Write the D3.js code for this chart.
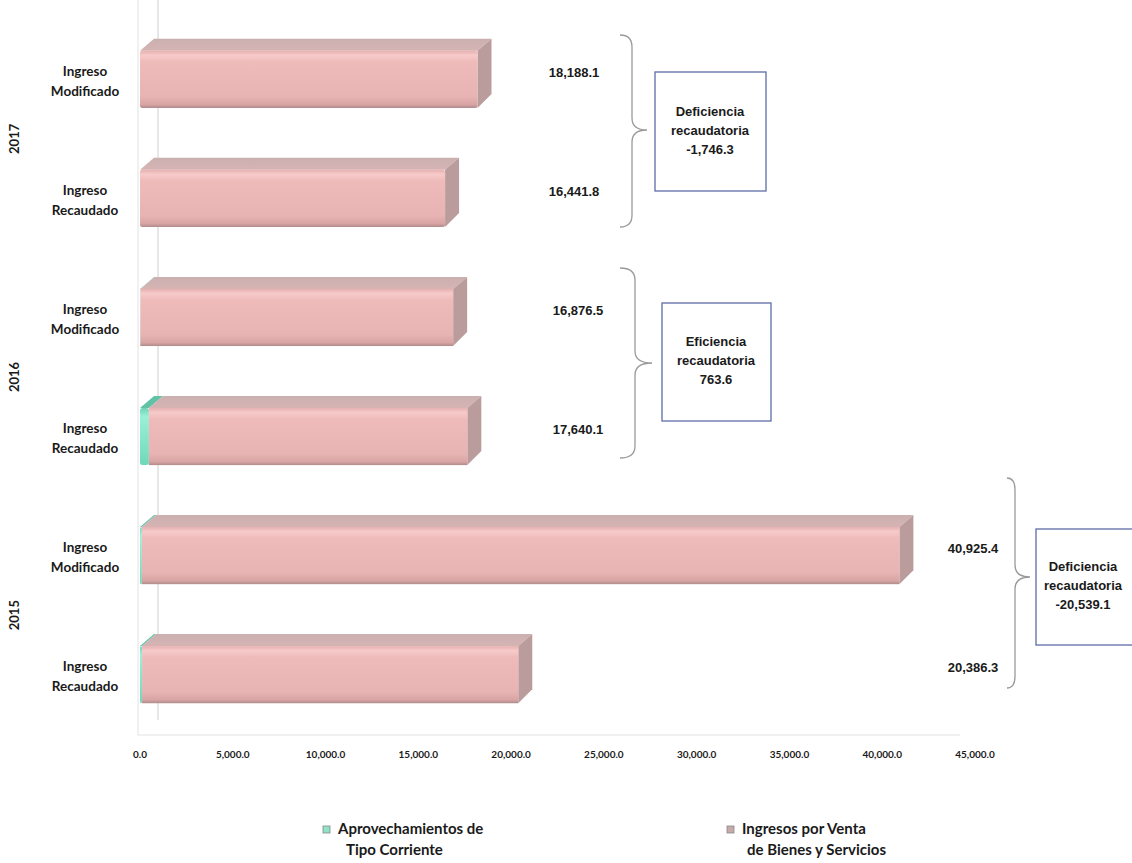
<!DOCTYPE html>
<html>
<head>
<meta charset="utf-8">
<script src="https://cdn.jsdelivr.net/npm/d3@7"></script>
<style>
  body { margin: 0; background: white; }
  text { fill: #1a1a1a; }
</style>
</head>
<body>
<div id="chart"></div>
<script>
// Ingreso modificado vs recaudado, bar data
const years = ["2017", "2016", "2015"]
const rowTypes = ["Ingreso Modificado", "Ingreso Recaudado"]
// one value per row: 2017 Mod, 2017 Rec, 2016 Mod, 2016 Rec, 2015 Mod, 2015 Rec
const aprovechamientos = [0, 0, 20, 480, 100, 110]
const ventas = [18188.1, 16441.8, 16856.5, 17160.1, 40825.4, 20276.3]
const xTicks = [0, 5000, 10000, 15000, 20000, 25000, 30000, 35000, 40000, 45000]
const seriesNames = [["Aprovechamientos de", "Tipo Corriente"], ["Ingresos por Venta", "de Bienes y Servicios"]]

const width = 1132, height = 863
const dx = 14, dy = 12   // depth of the 3d bars

const svg = d3.select("#chart").append("svg")
  .attr("width", width)
  .attr("height", height)
  .style("background-color", "white")

const rows = []
years.forEach(function(yr) {
  rowTypes.forEach(function(t) { rows.push(yr + "|" + t) })
})

const x = d3.scaleLinear().domain([0, 45000]).range([140, 975])
const y = d3.scaleBand().domain(rows).range([21, 733]).paddingInner(0.52).paddingOuter(0.25)
const bh = y.bandwidth()
const fmt = function(v) { return d3.format(",.1f")(v).replace("\u2212", "-") }

// gradients
const defs = svg.append("defs")
function vgrad(id, stops) {
  const g = defs.append("linearGradient").attr("id", id)
    .attr("x1", 0).attr("y1", 0).attr("x2", 0).attr("y2", 1)
  stops.forEach(function(s) {
    g.append("stop").attr("offset", s[0]).attr("stop-color", s[1])
  })
}
vgrad("pinkFront", [[0, "#e6b0b0"], [0.08, "#f7caca"], [0.2, "#eebaba"], [0.8, "#e8b3b3"], [0.94, "#d9a4a4"], [1, "#b08c8c"]])
vgrad("pinkTop", [[0, "#cbb0b0"], [1, "#d6b3b3"]])
vgrad("tealFront", [[0, "#6fd3b5"], [0.15, "#9af0d6"], [1, "#6fd8b8"]])

// back wall lines
svg.append("line").attr("x1", 138).attr("x2", 138).attr("y1", 0).attr("y2", 735)
  .style("stroke", "#e2e2e2")
svg.append("line").attr("x1", x(0) + dx + 4).attr("x2", x(0) + dx + 4).attr("y1", 0).attr("y2", 720)
  .style("stroke", "#d0d0d0")
svg.append("line").attr("x1", 138).attr("x2", 960).attr("y1", 735).attr("y2", 735)
  .style("stroke", "#e2e2e2")

// bars (stacked, 3d look)
const segColors = [
  { front: "url(#tealFront)", top: "#62c2a6", side: "#4fa88e" },
  { front: "url(#pinkFront)", top: "url(#pinkTop)", side: "#bb9c9c" }
]

rows.forEach(function(r, i) {
  const vals = [aprovechamientos[i], ventas[i]]
  let start = 0
  const yy = y(r)
  vals.forEach(function(v, k) {
    if (v <= 0) return
    const x0 = x(start), x1 = x(start + v)
    const c = segColors[k]
    const last = (k == vals.length - 1)
    // top face
    svg.append("path")
      .attr("d", "M" + x0 + "," + yy + " L" + (x0 + dx) + "," + (yy - dy) +
        " L" + (x1 + dx) + "," + (yy - dy) + " L" + x1 + "," + yy + "Z")
      .style("fill", c.top)
    // right side face
    if (last) {
      svg.append("path")
        .attr("d", "M" + x1 + "," + yy + " L" + (x1 + dx) + "," + (yy - dy) +
          " L" + (x1 + dx) + "," + (yy + bh - dy - 2) + " L" + x1 + "," + (yy + bh) + "Z")
        .style("fill", c.side)
    }
    // front face
    svg.append("rect")
      .attr("x", x0)
      .attr("y", yy)
      .attr("width", x1 - x0)
      .attr("height", bh)
      .attr("rx", k == 0 || start == 0 ? 2.5 : 0)
      .style("fill", c.front)
    start += v
  })
})

// row labels
rows.forEach(function(r) {
  const words = r.split("|")[1].split(" ")
  const cy = y(r) + bh / 2
  svg.append("text")
    .attr("x", 85).attr("y", cy - 7)
    .text(words[0])
    .style("font-family", "Lato, sans-serif")
    .style("font-size", "13.5px")
    .attr("font-weight", "bold")
    .style("text-anchor", "middle")
    .attr("dominant-baseline", "middle")
  svg.append("text")
    .attr("x", 85).attr("y", cy + 13)
    .text(words[1])
    .style("font-family", "Lato, sans-serif")
    .style("font-size", "13.5px")
    .attr("font-weight", "bold")
    .style("text-anchor", "middle")
    .attr("dominant-baseline", "middle")
})

// year labels (rotated)
years.forEach(function(yr) {
  const cy = (y(yr + "|" + rowTypes[0]) + y(yr + "|" + rowTypes[1]) + bh) / 2
  svg.append("text")
    .attr("transform", "translate(16," + cy + ") rotate(-90)")
    .text(yr)
    .style("font-family", "Lato, sans-serif")
    .style("font-size", "13px")
    .attr("font-weight", "bold")
    .style("text-anchor", "middle")
    .attr("dominant-baseline", "middle")
})

// x axis tick labels
xTicks.forEach(function(t) {
  svg.append("text")
    .attr("x", x(t)).attr("y", 755)
    .text(fmt(t))
    .style("font-family", "Lato, sans-serif")
    .style("font-size", "10px")
    .attr("font-weight", "bold")
    .style("text-anchor", "middle")
    .attr("dominant-baseline", "middle")
})

// annotations: value labels, braces, boxes
const annot = {
  "2017": { labelX: 574, bx0: 620, bxv: 632, bxt: 647, top: 35, bottom: 227, tip: 130, box: [655, 72, 111, 119], textX: 710 },
  "2016": { labelX: 578, bx0: 620, bxv: 635, bxt: 652, top: 268, bottom: 458, tip: 363, box: [662, 303, 109, 118], textX: 716 },
  "2015": { labelX: 973, bx0: 1007, bxv: 1015, bxt: 1030, top: 478, bottom: 688, tip: 577, box: [1036, 529, 110, 116], textX: 1083 }
}
const narrow = "'Liberation Sans Narrow', 'Arial Narrow', sans-serif"

years.forEach(function(yr, j) {
  const a = annot[yr]
  const iMod = j * 2, iRec = j * 2 + 1
  const tot = [aprovechamientos[iMod] + ventas[iMod], aprovechamientos[iRec] + ventas[iRec]]

  rowTypes.forEach(function(t, k) {
    svg.append("text")
      .attr("x", a.labelX).attr("y", y(yr + "|" + t) + bh / 2 - 6)
      .text(fmt(tot[k]))
      .style("font-family", narrow)
      .style("font-size", "13px")
      .attr("font-weight", "bold")
      .style("text-anchor", "middle")
      .attr("dominant-baseline", "middle")
  })

  // curly brace
  const r = 12
  const p = "M" + a.bx0 + "," + a.top +
    " Q" + a.bxv + "," + a.top + " " + a.bxv + "," + (a.top + r) +
    " L" + a.bxv + "," + (a.tip - r) +
    " Q" + a.bxv + "," + a.tip + " " + a.bxt + "," + a.tip +
    " Q" + a.bxv + "," + a.tip + " " + a.bxv + "," + (a.tip + r) +
    " L" + a.bxv + "," + (a.bottom - r) +
    " Q" + a.bxv + "," + a.bottom + " " + a.bx0 + "," + a.bottom
  svg.append("path").attr("d", p)
    .style("fill", "none")
    .style("stroke", "#9a9a9a")
    .style("stroke-width", 1.3)

  // box
  svg.append("rect")
    .attr("x", a.box[0]).attr("y", a.box[1])
    .attr("width", a.box[2]).attr("height", a.box[3])
    .style("fill", "white")
    .style("stroke", "#5f6ca6")
    .style("stroke-width", 1.3)

  const diff = tot[1] - tot[0]
  const lines = [diff < 0 ? "Deficiencia" : "Eficiencia", "recaudatoria", fmt(diff)]
  const cy = a.box[1] + a.box[3] / 2
  lines.forEach(function(l, n) {
    svg.append("text")
      .attr("x", a.textX).attr("y", cy + (n - 1) * 19)
      .text(l)
      .style("font-family", narrow)
      .style("font-size", "13px")
      .attr("font-weight", "bold")
      .style("text-anchor", "middle")
      .attr("dominant-baseline", "middle")
  })
})

// legend
const legendX = [323, 727]
const legendFill = ["#8fe3c9", "#c9aaaa"]
seriesNames.forEach(function(name, k) {
  svg.append("rect")
    .attr("x", legendX[k]).attr("y", 826)
    .attr("width", 7).attr("height", 7)
    .style("fill", legendFill[k])
    .style("stroke", "#888")
    .style("stroke-width", 0.8)
  svg.append("text")
    .attr("x", legendX[k] + 15).attr("y", 830)
    .text(name[0])
    .style("font-family", "Lato, sans-serif")
    .style("font-size", "15px")
    .attr("font-weight", "bold")
    .attr("dominant-baseline", "middle")
  svg.append("text")
    .attr("x", legendX[k] + 15 + (k == 0 ? 8 : 5)).attr("y", 851)
    .text(name[1])
    .style("font-family", "Lato, sans-serif")
    .style("font-size", "15px")
    .attr("font-weight", "bold")
    .attr("dominant-baseline", "middle")
})
</script>
</body>
</html>
